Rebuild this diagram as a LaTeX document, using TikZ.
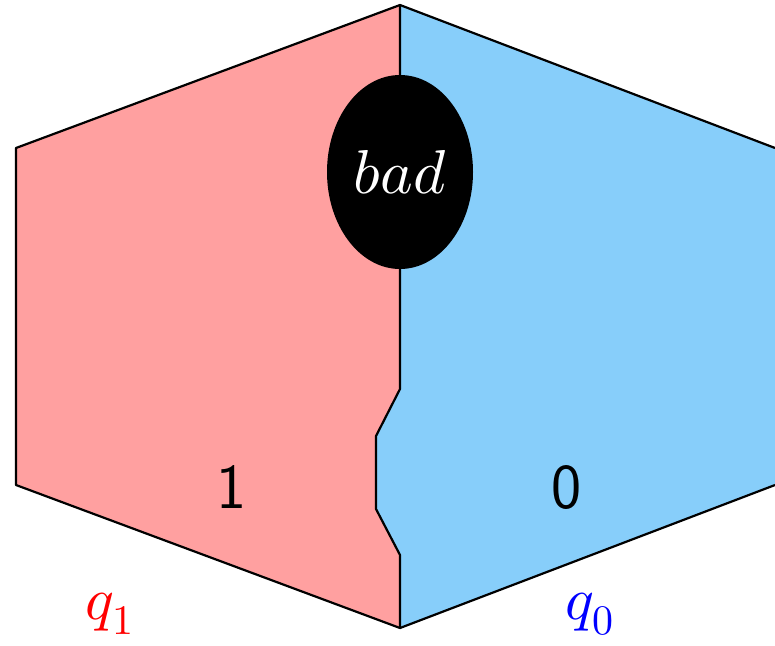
\documentclass[tikz,border=0pt]{standalone}
\usepackage{unicode-math}
\setmathfont{Latin Modern Math}
\usepackage{tikz}
\usetikzlibrary{shapes.geometric}
\definecolor{lred}{HTML}{FFA0A0}
\definecolor{lblue}{HTML}{87CEFA}
\begin{document}
\begin{tikzpicture}[x=1pt,y=-1pt,line width=2.2pt,line join=round,
  lbl/.style={inner sep=0pt,font=\fontsize{64}{76}\selectfont\sffamily},
  qlbl/.style={inner sep=0pt,font=\fontsize{60}{72}\selectfont}]
\useasboundingbox (0,0) rectangle (775,645);
\coordinate (T) at (400,5);
\coordinate (UL) at (16,148);
\coordinate (LL) at (16,485);
\coordinate (B) at (400,628);
\coordinate (LR) at (775,485);
\coordinate (UR) at (775,148);
\coordinate (n1) at (400,389);
\coordinate (n2) at (376,436);
\coordinate (n3) at (376,509);
\coordinate (n4) at (400,555);
\fill[lred] (T) -- (UL) -- (LL) -- (B) -- (n4) -- (n3) -- (n2) -- (n1) -- cycle;
\fill[lblue] (T) -- (UR) -- (LR) -- (B) -- (n4) -- (n3) -- (n2) -- (n1) -- cycle;
\draw (UR) -- (T) -- (UL) -- (LL) -- (B) -- (LR);
\draw (T) -- (n1) -- (n2) -- (n3) -- (n4) -- (B);
\node[ellipse,fill=black,minimum width=146pt,minimum height=194pt,inner sep=0pt,
  text=white,font=\fontsize{62}{74}\selectfont] (bad) at (400,172) {$bad$};
\node[lbl] (one) at (232,487) {1};
\node[lbl] (zero) at (567,487) {0};
\node[qlbl,text=red] (q1) at (110,614) {$q_1$};
\node[qlbl,text=blue] (q0) at (590,614) {$q_0$};
\end{tikzpicture}
\end{document}
